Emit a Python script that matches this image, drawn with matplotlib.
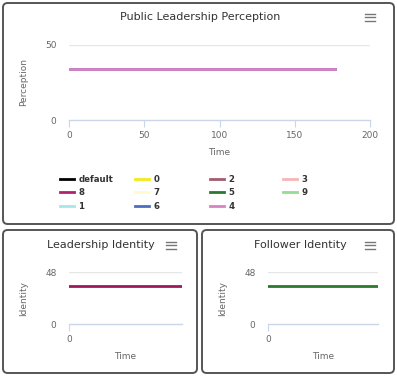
import matplotlib.pyplot as plt
from matplotlib.patches import FancyBboxPatch
from matplotlib.lines import Line2D

# Data
series_names = ['default', '0', '2', '3', '8', '7', '5', '9', '1', '6', '4']
series_colors = ['#000000', '#f2ea1c', '#a55c6c', '#f7b4b4', '#b02270', '#fffad0',
                 '#2b7a2b', '#95dc95', '#a8e6e6', '#4a6fc2', '#d882c2']
time_points = [0, 177]
perception_values = {
    'default': [34.0, 34.0], '0': [34.0, 34.0], '2': [34.0, 34.0], '3': [34.0, 34.0],
    '8': [34.0, 34.0], '7': [34.0, 34.0], '5': [34.0, 34.0], '9': [34.0, 34.0],
    '1': [34.0, 34.0], '6': [34.0, 34.0], '4': [34.0, 34.0],
}
leader_identity = [35.0, 35.0]
follower_identity = [35.0, 35.0]

# legend columns as laid out in the original (row-wise fill)
legend_columns = [['default', '8', '1'], ['0', '7', '6'], ['2', '5', '4'], ['3', '9']]
legend_col_x = [60, 135, 210, 283]

W, H = 397, 377
fig = plt.figure(figsize=(W / 100, H / 100), dpi=100)
fig.patch.set_facecolor('white')
plt.rcParams['font.family'] = ['DejaVu Sans']

def px(x, y):
    return x / W, 1 - y / H

def panel(x0, y0, x1, y1):
    fx0, fy1 = px(x0, y0)
    fx1, fy0 = px(x1, y1)
    box = FancyBboxPatch((fx0, fy0), fx1 - fx0, fy1 - fy0,
                         boxstyle='round,pad=0,rounding_size=0.012',
                         transform=fig.transFigure, fill=False,
                         edgecolor='#555555', linewidth=1.4)
    fig.patches.append(box)

def menu_icon(cx, cy):
    for dy in (-3.5, 0, 3.5):
        x0, y0 = px(cx - 5, cy + dy)
        x1, _ = px(cx + 5, cy + dy)
        fig.lines.append(Line2D([x0, x1], [y0, y0], transform=fig.transFigure,
                                color='#777777', linewidth=1.0))

def style_axes(ax, ymax, xmax, xticks, ylabel, xpad):
    ax.set_ylim(0, ymax)
    ax.set_xlim(0, xmax)
    ax.set_yticks([0, ymax])
    ax.set_xticks(xticks)
    for s in ['top', 'right', 'left']:
        ax.spines[s].set_visible(False)
    ax.spines['bottom'].set_color('#ccd6eb')
    ax.spines['bottom'].set_linewidth(1)
    ax.axhline(ymax, color='#e6e6e6', linewidth=1, zorder=0)
    ax.tick_params(axis='y', length=0, labelsize=6.5, labelcolor='#666666', pad=9)
    ax.tick_params(axis='x', length=5, color='#ccd6eb', labelsize=6.5,
                   labelcolor='#666666', pad=3)
    ax.set_ylabel(ylabel, fontsize=6.5, color='#666666', labelpad=12)
    ax.set_xlabel('Time', fontsize=6.5, color='#666666', labelpad=xpad)
    ax.set_facecolor('none')

# Panels
panel(3, 3, 394, 224)
panel(3, 230, 197, 373)
panel(202, 230, 394, 373)

# Top chart
l, b = px(69, 120)
r, t = px(370, 45)
ax1 = fig.add_axes([l, b, r - l, t - b])
lines = {}
for name, col in zip(series_names, series_colors):
    lines[name], = ax1.plot(time_points, perception_values[name], color=col,
                            linewidth=2, label=name)
style_axes(ax1, 50, 200, [0, 50, 100, 150, 200], 'Perception', 6)
fig.text(*px(200, 17), 'Public Leadership Perception', ha='center', va='center',
         fontsize=8, color='#333333')
menu_icon(370, 17)

# legend, one column at a time
for col_names, cx in zip(legend_columns, legend_col_x):
    lx, ly = px(cx, 175)
    leg = fig.legend([lines[n] for n in col_names], col_names, loc='upper left',
                     bbox_to_anchor=(lx, ly), ncol=1, frameon=False,
                     fontsize=6.2, handlelength=1.6, handletextpad=0.55,
                     labelspacing=0.5, borderpad=0, borderaxespad=0)
    for txt in leg.get_texts():
        txt.set_fontweight('bold')
        txt.set_color('#333333')

# Bottom left chart
l, b = px(69, 324)
r, t = px(182, 272)
ax2 = fig.add_axes([l, b, r - l, t - b])
ax2.plot(time_points, leader_identity, color='#a0185a', linewidth=2)
style_axes(ax2, 48, 177, [0], 'Identity', 6)
fig.text(*px(101, 245), 'Leadership Identity', ha='center', va='center',
         fontsize=8, color='#333333')
menu_icon(171, 245)

# Bottom right chart
l, b = px(268, 324)
r, t = px(378, 272)
ax3 = fig.add_axes([l, b, r - l, t - b])
ax3.plot(time_points, follower_identity, color='#2b7a2b', linewidth=2)
style_axes(ax3, 48, 177, [0], 'Identity', 6)
fig.text(*px(300, 245), 'Follower Identity', ha='center', va='center',
         fontsize=8, color='#333333')
menu_icon(370, 245)

fig.savefig('out.png', dpi=100)
